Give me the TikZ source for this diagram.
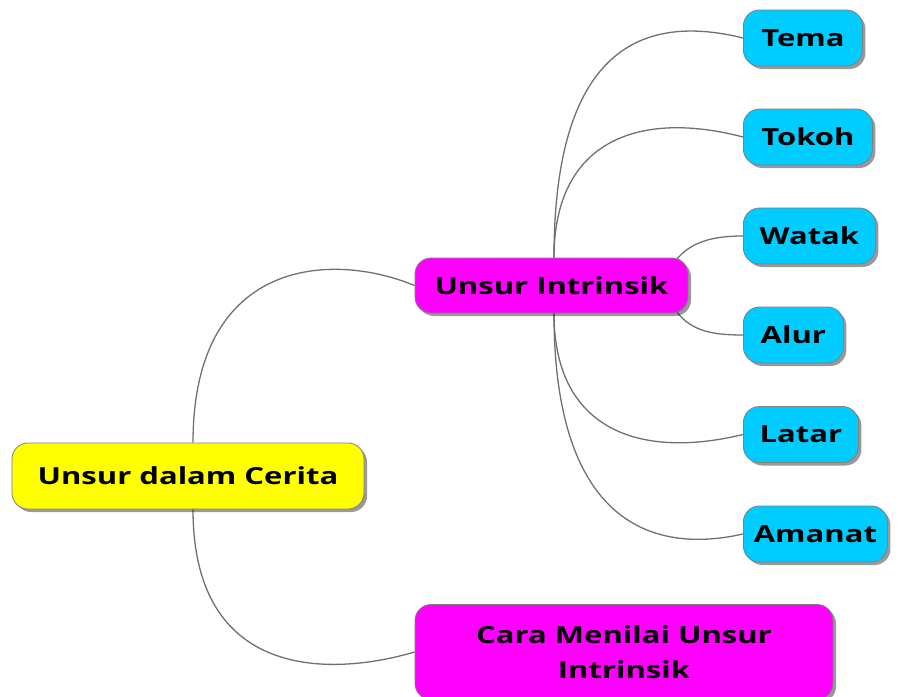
\documentclass[tikz,border=0pt]{standalone}
\usepackage{fontspec}
\setmainfont{Open Sans}[FakeStretch=1.32]
\usetikzlibrary{shadows,backgrounds}
\definecolor{cyanbox}{HTML}{00CCFF}
\definecolor{yellowbox}{HTML}{FFFF00}
\definecolor{magentabox}{HTML}{FF00FF}
\definecolor{linkgray}{HTML}{707070}
\definecolor{bordergray}{HTML}{808080}
\begin{document}
\begin{tikzpicture}[x=1pt,y=-1pt,
  box/.style={rounded corners=16pt, draw=bordergray, line width=0.8pt,
    font=\fontsize{23.5}{35}\selectfont\bfseries, align=center, inner sep=0pt,
    drop shadow={shadow xshift=3pt, shadow yshift=-3pt, opacity=0.4, fill=black}},
  leaf/.style={box, fill=cyanbox, minimum height=56pt, anchor=west},
  link/.style={draw=linkgray, line width=1.3pt}
]
\useasboundingbox (0,0) rectangle (901,696);
\clip (0,0) rectangle (901,696);
\node[box, fill=yellowbox, minimum width=352pt, minimum height=66pt] (root) at (188,476) {Unsur dalam Cerita};
\node[box, fill=magentabox, minimum width=273pt, minimum height=55pt] (ui) at (551.5,285.5) {Unsur Intrinsik};
\node[box, fill=magentabox, minimum width=418pt, minimum height=95pt] (cara) at (624,652) {Cara Menilai Unsur\\Intrinsik};
\node[leaf, minimum width=119pt] (tema) at (743,38) {Tema};
\node[leaf, minimum width=129pt] (tokoh) at (743,137) {Tokoh};
\node[leaf, minimum width=132pt] (watak) at (743,236) {Watak};
\node[leaf, minimum width=100pt] (alur) at (743,335) {Alur};
\node[leaf, minimum width=115pt] (latar) at (743,434.5) {Latar};
\node[leaf, minimum width=144pt] (amanat) at (743,534) {Amanat};
\begin{scope}[on background layer]
\draw[link] ([xshift=5pt]root.north) .. controls +(0,-183) and +(-85,-35) .. (ui.west);
\draw[link] ([xshift=5pt]root.south) .. controls +(0,170) and +(-85,25) .. (cara.west);
\draw[link] ([xshift=2.5pt]ui.north) .. controls +(0,-218) and +(-93,-23) .. (tema.west);
\draw[link] ([xshift=2.5pt]ui.north) .. controls +(0,-118) and +(-103,-27) .. (tokoh.west);
\draw[link] ([xshift=-12pt,yshift=-2pt]ui.north east) .. controls +(15,-18) and +(-30,0) .. (watak.west);
\draw[link] ([xshift=-12pt,yshift=2pt]ui.south east) .. controls +(15,20) and +(-30,0) .. (alur.west);
\draw[link] ([xshift=2.5pt]ui.south) .. controls +(0,117) and +(-103,25) .. (latar.west);
\draw[link] ([xshift=2.5pt]ui.south) .. controls +(0,207) and +(-93,21) .. (amanat.west);
\end{scope}
\end{tikzpicture}
\end{document}
